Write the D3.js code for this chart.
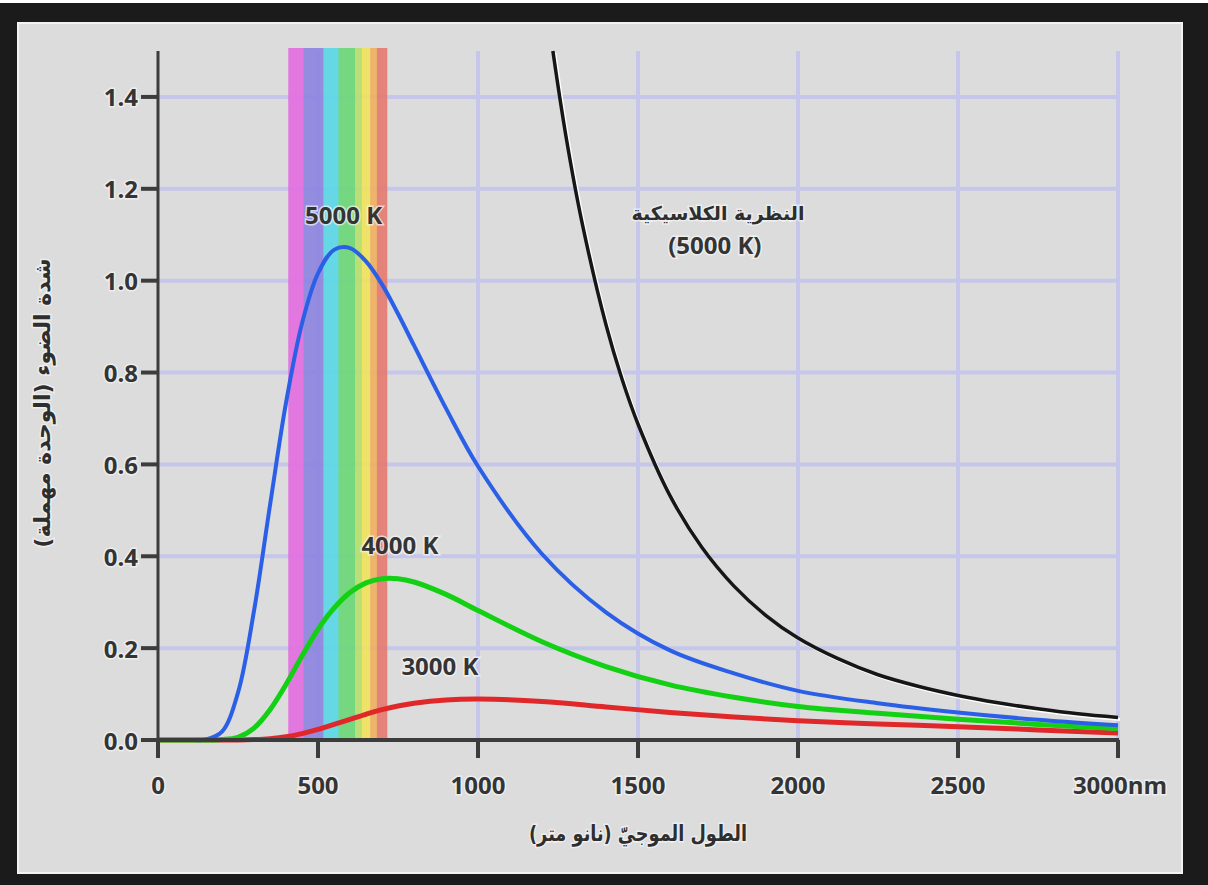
<!DOCTYPE html>
<html>
<head>
<meta charset="utf-8">
<script src="https://cdn.jsdelivr.net/npm/d3@7"></script>
<style>
  body { margin: 0; background: #fff; }
  .num { font-family: "Open Sans", sans-serif; font-weight: 700; fill: #343434; paint-order: stroke; stroke: #f6f6f6; stroke-width: 3px; stroke-opacity: 0.7; }
  .ar { font-family: "DejaVu Sans", sans-serif; font-weight: 700; fill: #2e2e2e; paint-order: stroke; stroke: #f6f6f6; stroke-width: 3px; stroke-opacity: 0.7; }
</style>
</head>
<body>
<svg id="chart" width="1208" height="885"></svg>
<script>
// wavelengths (nm) shared by the planck curves
const wavelengths = [0, 100, 150, 200, 250, 300, 350, 400, 450, 500, 550, 600, 650, 700, 750, 800, 900, 1000, 1200, 1400, 1600, 1800, 2000, 2250, 2500, 2750, 3000];
const k5000 = [0, 0, 0.001, 0.018, 0.103, 0.281, 0.511, 0.734, 0.907, 1.016, 1.067, 1.071, 1.042, 0.992, 0.928, 0.859, 0.722, 0.596, 0.405, 0.278, 0.195, 0.145, 0.107, 0.080, 0.060, 0.044, 0.032];
const k4000 = [0, 0, 0, 0.001, 0.006, 0.026, 0.066, 0.121, 0.183, 0.241, 0.287, 0.321, 0.342, 0.351, 0.351, 0.344, 0.317, 0.282, 0.214, 0.160, 0.120, 0.093, 0.073, 0.058, 0.045, 0.034, 0.025];
const k3000 = [0, 0, 0, 0, 0, 0.001, 0.003, 0.007, 0.014, 0.023, 0.034, 0.045, 0.056, 0.066, 0.074, 0.080, 0.087, 0.089, 0.084, 0.072, 0.060, 0.050, 0.042, 0.035, 0.029, 0.022, 0.015];

// classical (rayleigh-jeans) 5000 K, only the part inside the plot
const classicalNm = [1234, 1275, 1325, 1400, 1450, 1500, 1600, 1700, 1800, 1900, 2000, 2125, 2250, 2375, 2500, 2625, 2750, 2875, 3000];
const classicalVal = [1.5, 1.314, 1.127, 0.904, 0.786, 0.688, 0.532, 0.419, 0.335, 0.271, 0.222, 0.177, 0.142, 0.117, 0.097, 0.081, 0.068, 0.057, 0.049];

// visible spectrum band
const bandEdges = [407, 454, 517, 564, 616, 637, 663, 684, 715];
const bandColors = ['#e36ee0', '#8c84e0', '#5ad8e6', '#6ad878', '#b6e06c', '#f0e45a', '#f0b060', '#e47a70'];

const xTicks = [0, 500, 1000, 1500, 2000, 2500, 3000];
const yTicks = [0, 0.2, 0.4, 0.6, 0.8, 1.0, 1.2, 1.4];

const curveLabels = [
  { text: '5000 K', nm: 580, v: 1.144 },
  { text: '4000 K', nm: 756, v: 0.425 },
  { text: '3000 K', nm: 881, v: 0.163 }
];
const classicalLabel = ['النظرية الكلاسيكية', '(5000 K)'];

const svg = d3.select('#chart');

// frame + panel
svg.append('rect').attr('x', 0).attr('y', 3).attr('width', 1208).attr('height', 882).attr('fill', '#1b1b1b');
svg.append('rect').attr('x', 18).attr('y', 23).attr('width', 1164).attr('height', 850)
  .attr('fill', '#dcdcdc').attr('stroke', '#f2f2f2').attr('stroke-width', 2);

const x = d3.scaleLinear().domain([0, 3000]).range([158, 1118]);
const y = d3.scaleLinear().domain([0, 1.5]).range([740, 51]);

// gridlines
svg.append('g').selectAll('line').data(yTicks.slice(1)).join('line')
  .attr('x1', x(0)).attr('x2', x(3000))
  .attr('y1', d => y(d)).attr('y2', d => y(d))
  .attr('stroke', '#c6c6ea').attr('stroke-width', 4);
svg.append('g').selectAll('line').data(xTicks.slice(1)).join('line')
  .attr('x1', d => x(d)).attr('x2', d => x(d))
  .attr('y1', y(1.5)).attr('y2', y(0))
  .attr('stroke', '#c6c6ea').attr('stroke-width', 4);

// spectrum
svg.append('g').attr('opacity', 0.9).selectAll('rect').data(bandColors).join('rect')
  .attr('x', (d, i) => x(bandEdges[i]))
  .attr('width', (d, i) => x(bandEdges[i + 1]) - x(bandEdges[i]) + 0.5)
  .attr('y', y(1.5) - 3).attr('height', y(0) - y(1.5) + 3)
  .attr('fill', d => d);

const line = d3.line().x(d => x(d[0])).y(d => y(Math.max(0, d[1]))).curve(d3.curveCatmullRom.alpha(0.5));

const series = [
  { vals: k3000, color: '#e0282a', w: 5 },
  { vals: k4000, color: '#14d014', w: 5 },
  { vals: k5000, color: '#2b60e6', w: 4 }
];
series.forEach(s => {
  svg.append('path')
    .datum(wavelengths.map((nm, i) => [nm, s.vals[i]]))
    .attr('d', line).attr('fill', 'none')
    .attr('stroke', s.color).attr('stroke-width', s.w);
});

const classical = classicalNm.map((nm, i) => [nm, classicalVal[i]]);
// white glow on the black curve
svg.append('path').datum(classical).attr('d', line).attr('fill', 'none')
  .attr('stroke', '#ffffff').attr('stroke-width', 3).attr('transform', 'translate(2,2)');
svg.append('path').datum(classical).attr('d', line).attr('fill', 'none')
  .attr('stroke', '#161616').attr('stroke-width', 3.5);

// axes
svg.append('line').attr('x1', x(0)).attr('x2', x(0)).attr('y1', y(1.5)).attr('y2', y(0) + 2)
  .attr('stroke', '#3c3c3c').attr('stroke-width', 3);
svg.append('line').attr('x1', x(0) - 1).attr('x2', x(3000) + 1).attr('y1', y(0)).attr('y2', y(0))
  .attr('stroke', '#3c3c3c').attr('stroke-width', 4);

svg.append('g').selectAll('line').data(yTicks).join('line')
  .attr('x1', x(0) - 17).attr('x2', x(0)).attr('y1', d => y(d)).attr('y2', d => y(d))
  .attr('stroke', '#3c3c3c').attr('stroke-width', 4);
svg.append('g').selectAll('line').data(xTicks).join('line')
  .attr('x1', d => x(d)).attr('x2', d => x(d)).attr('y1', y(0)).attr('y2', y(0) + 18)
  .attr('stroke', '#3c3c3c').attr('stroke-width', 4);

svg.append('g').selectAll('text').data(yTicks).join('text')
  .attr('class', 'num').attr('x', 138).attr('y', d => y(d))
  .attr('text-anchor', 'end').attr('dominant-baseline', 'central')
  .style('font-size', '24px').text(d => d.toFixed(1));
svg.append('g').selectAll('text').data(xTicks).join('text')
  .attr('class', 'num').attr('x', d => x(d) + (d === 3000 ? 2 : 0)).attr('y', 784)
  .attr('text-anchor', 'middle').attr('dominant-baseline', 'central')
  .style('font-size', '24px').text(d => d === 3000 ? '3000nm' : d);

// curve labels
svg.append('g').selectAll('text').data(curveLabels).join('text')
  .attr('class', 'num').attr('x', d => x(d.nm)).attr('y', d => y(d.v))
  .attr('text-anchor', 'middle').attr('dominant-baseline', 'central')
  .style('font-size', '24px').text(d => d.text);

svg.append('text').attr('class', 'ar').attr('x', x(1750)).attr('y', y(1.148))
  .attr('text-anchor', 'middle').attr('dominant-baseline', 'central')
  .style('font-size', '19px').text(classicalLabel[0]);
svg.append('text').attr('class', 'num').attr('x', x(1740)).attr('y', y(1.078))
  .attr('text-anchor', 'middle').attr('dominant-baseline', 'central')
  .style('font-size', '24px').text(classicalLabel[1]);

// axis titles
svg.append('text').attr('class', 'ar').attr('x', 638).attr('y', 833)
  .attr('text-anchor', 'middle').attr('dominant-baseline', 'central')
  .attr('textLength', 218).attr('lengthAdjust', 'spacingAndGlyphs')
  .style('font-size', '22px').text('الطول الموجيّ (نانو متر)');
svg.append('text').attr('class', 'ar')
  .attr('transform', 'translate(42,403) rotate(-90)')
  .attr('text-anchor', 'middle').attr('dominant-baseline', 'central')
  .style('font-size', '22px').text('شدة الضوء (الوحدة مهملة)');
</script>
</body>
</html>
